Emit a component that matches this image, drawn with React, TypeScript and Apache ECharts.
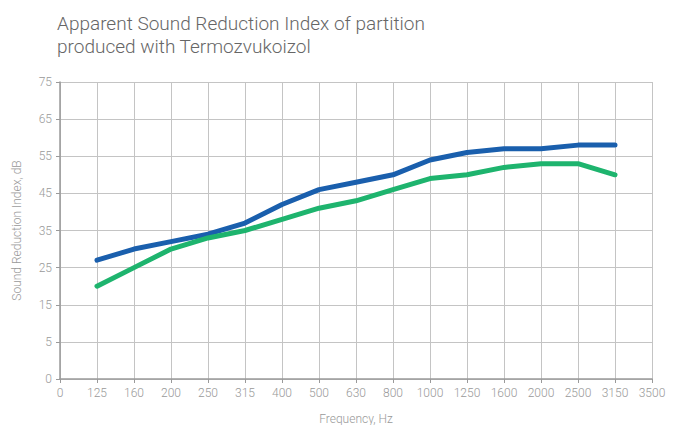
import React, { useEffect, useRef } from "react";
import * as echarts from "echarts";

const frequencies = ["0", "125", "160", "200", "250", "315", "400", "500", "630", "800", "1000", "1250", "1600", "2000", "2500", "3150", "3500"];
const measuredFreqs = ["125", "160", "200", "250", "315", "400", "500", "630", "800", "1000", "1250", "1600", "2000", "2500", "3150"];
const blueValues = [27, 30, 32, 34, 37, 42, 46, 48, 50, 54, 56, 57, 57, 58, 58];
const greenValues = [20, 25, 30, 33, 35, 38, 41, 43, 46, 49, 50, 52, 53, 53, 50];

const FONT = "Roboto";

export default function App() {
  const ref = useRef<HTMLDivElement>(null);
  useEffect(() => {
    if (!ref.current) return;
    const chart = echarts.init(ref.current, null, { renderer: "svg" });
    chart.setOption({
      animation: false,
      backgroundColor: "#ffffff",
      title: {
        text: "Apparent Sound Reduction Index of partition\nproduced with Termozvukoizol",
        left: 52,
        top: 7,
        textStyle: { fontFamily: FONT, fontWeight: 300, fontSize: 19, lineHeight: 23, color: "#666666" },
      },
      grid: { left: 60, right: 25, top: 82, bottom: 46, containLabel: false, outerBoundsMode: "none" },
      xAxis: {
        type: "category",
        boundaryGap: false,
        data: frequencies,
        name: "Frequency, Hz",
        nameLocation: "middle",
        nameGap: 34,
        nameTextStyle: { fontFamily: FONT, fontWeight: 300, fontSize: 12, color: "#999999" },
        axisLine: { onZero: false, lineStyle: { color: "#9a9a9a", width: 1.5 } },
        axisTick: { show: true, length: 4, lineStyle: { color: "#9a9a9a" } },
        axisLabel: { fontFamily: FONT, fontWeight: 300, fontSize: 12, color: "#999999", margin: 8, interval: 0 },
        splitLine: { show: true, lineStyle: { color: "#c4c4c4", width: 1 } },
      },
      yAxis: {
        type: "value",
        min: -5,
        max: 75,
        interval: 10,
        name: "Sound Reduction Index, dB",
        nameLocation: "middle",
        nameGap: 37,
        nameTextStyle: { fontFamily: FONT, fontWeight: 300, fontSize: 12, color: "#999999" },
        axisLine: { show: true, onZero: false, lineStyle: { color: "#9a9a9a", width: 1.5 } },
        axisTick: { show: true, length: 4, lineStyle: { color: "#9a9a9a" } },
        axisLabel: {
          fontFamily: FONT, fontWeight: 300, fontSize: 12, color: "#999999", margin: 8,
          formatter: (v: number) => (v < 0 ? "0" : String(v)),
        },
        splitLine: { show: true, lineStyle: { color: "#c4c4c4", width: 1 } },
      },
      series: [
        {
          type: "line",
          data: measuredFreqs.map((f, i) => [f, blueValues[i]]),
          symbol: "none",
          lineStyle: { color: "#1a5fad", width: 5, cap: "round", join: "round" },
          itemStyle: { color: "#1a5fad" },
        },
        {
          type: "line",
          data: measuredFreqs.map((f, i) => [f, greenValues[i]]),
          symbol: "none",
          lineStyle: { color: "#1eb46e", width: 5, cap: "round", join: "round" },
          itemStyle: { color: "#1eb46e" },
        },
      ],
    });
    return () => chart.dispose();
  }, []);
  return <div ref={ref} style={{ width: 677, height: 425, position: "absolute", left: 0, top: 0 }} />;
}
